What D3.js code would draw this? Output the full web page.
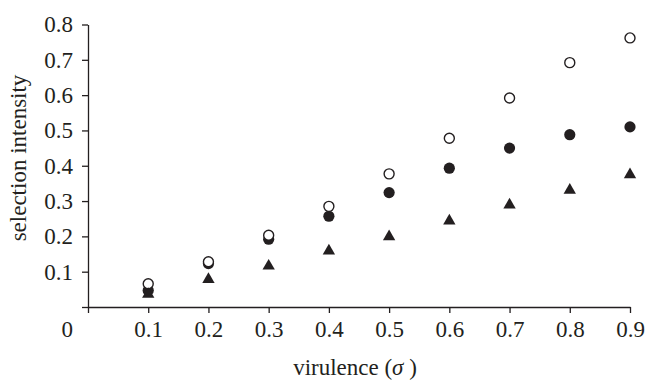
<!DOCTYPE html>
<html>
<head>
<meta charset="utf-8">
<script src="https://cdn.jsdelivr.net/npm/d3@7"></script>
<style>
  body { margin: 0; background: #fff; }
  text { font-family: "Liberation Serif", "Times New Roman", serif; fill: #231f20; }
</style>
</head>
<body>
<div id="chart"></div>
<script>
// virulence values on the x axis
var virulence = [0.1, 0.2, 0.3, 0.4, 0.5, 0.6, 0.7, 0.8, 0.9];
// selection intensity, one array per marker type
var openCircles = [0.066, 0.128, 0.203, 0.285, 0.377, 0.478, 0.592, 0.692, 0.762];
var filledCircles = [0.047, 0.123, 0.192, 0.257, 0.324, 0.393, 0.450, 0.488, 0.510];
var triangles = [0.036, 0.078, 0.116, 0.159, 0.199, 0.244, 0.289, 0.331, 0.375];
var xTicks = [0, 0.1, 0.2, 0.3, 0.4, 0.5, 0.6, 0.7, 0.8, 0.9];
var yTicks = [0, 0.1, 0.2, 0.3, 0.4, 0.5, 0.6, 0.7, 0.8];

var ink = "#231f20";
var margin = { top: 24.5, right: 18, bottom: 74, left: 88 },
  width = 648 - margin.left - margin.right,
  height = 381 - margin.top - margin.bottom;

var svg = d3.select("#chart")
  .append("svg")
  .attr("width", 648)
  .attr("height", 381)
  .append("g")
  .attr("transform", "translate(" + margin.left + "," + margin.top + ")");

var x = d3.scaleLinear().domain([0, 0.9]).range([0, width]);
var y = d3.scaleLinear().domain([0, 0.8]).range([height, 0]);
var fmt = d3.format(".1f");

// axes (the 0 tick labels are left out, a single "0" sits at the corner)
var xAxis = svg.append("g")
  .attr("transform", "translate(0," + height + ")")
  .call(d3.axisBottom(x).tickValues(xTicks).tickSize(6).tickSizeOuter(0).tickPadding(8)
    .tickFormat(function (d) { return d === 0 ? "" : fmt(d); }));
var yAxis = svg.append("g")
  .call(d3.axisLeft(y).tickValues(yTicks).tickSize(6).tickSizeOuter(0).tickPadding(9)
    .tickFormat(function (d) { return d === 0 ? "" : fmt(d); }));

[xAxis, yAxis].forEach(function (a) {
  a.selectAll("path, line").attr("stroke", ink).attr("stroke-width", 1.3);
  a.selectAll("text")
    .attr("fill", ink)
    .style("font-family", '"Liberation Serif", "Times New Roman", serif')
    .style("font-size", "23px");
});

svg.append("text")
  .attr("x", -15)
  .attr("y", height + 30)
  .attr("text-anchor", "end")
  .style("font-size", "23px")
  .text("0");

// axis labels
svg.append("text")
  .attr("transform", "translate(" + (26 - margin.left) + "," + (158 - margin.top) + ") rotate(-90)")
  .attr("text-anchor", "middle")
  .style("font-size", "23px")
  .text("selection intensity");

var xl = svg.append("text")
  .attr("x", 355 - margin.left)
  .attr("y", 375 - margin.top)
  .attr("text-anchor", "middle")
  .style("font-size", "23px");
xl.append("tspan").text("virulence (");
xl.append("tspan").style("font-style", "italic").text("σ");
xl.append("tspan").text(" )");

// markers
svg.append("g")
  .selectAll("circle")
  .data(filledCircles)
  .enter()
  .append("circle")
  .attr("cx", function (d, i) { return x(virulence[i]); })
  .attr("cy", function (d) { return y(d); })
  .attr("r", 5.6)
  .attr("fill", ink);

svg.append("g")
  .selectAll("circle")
  .data(openCircles)
  .enter()
  .append("circle")
  .attr("cx", function (d, i) { return x(virulence[i]); })
  .attr("cy", function (d) { return y(d); })
  .attr("r", 5)
  .attr("fill", "#fff")
  .attr("stroke", ink)
  .attr("stroke-width", 1.4);

var tri = d3.symbol().type(d3.symbolTriangle).size(66);
svg.append("g")
  .selectAll("path")
  .data(triangles)
  .enter()
  .append("path")
  .attr("d", tri)
  .attr("transform", function (d, i) { return "translate(" + x(virulence[i]) + "," + y(d) + ")"; })
  .attr("fill", ink);
</script>
</body>
</html>
